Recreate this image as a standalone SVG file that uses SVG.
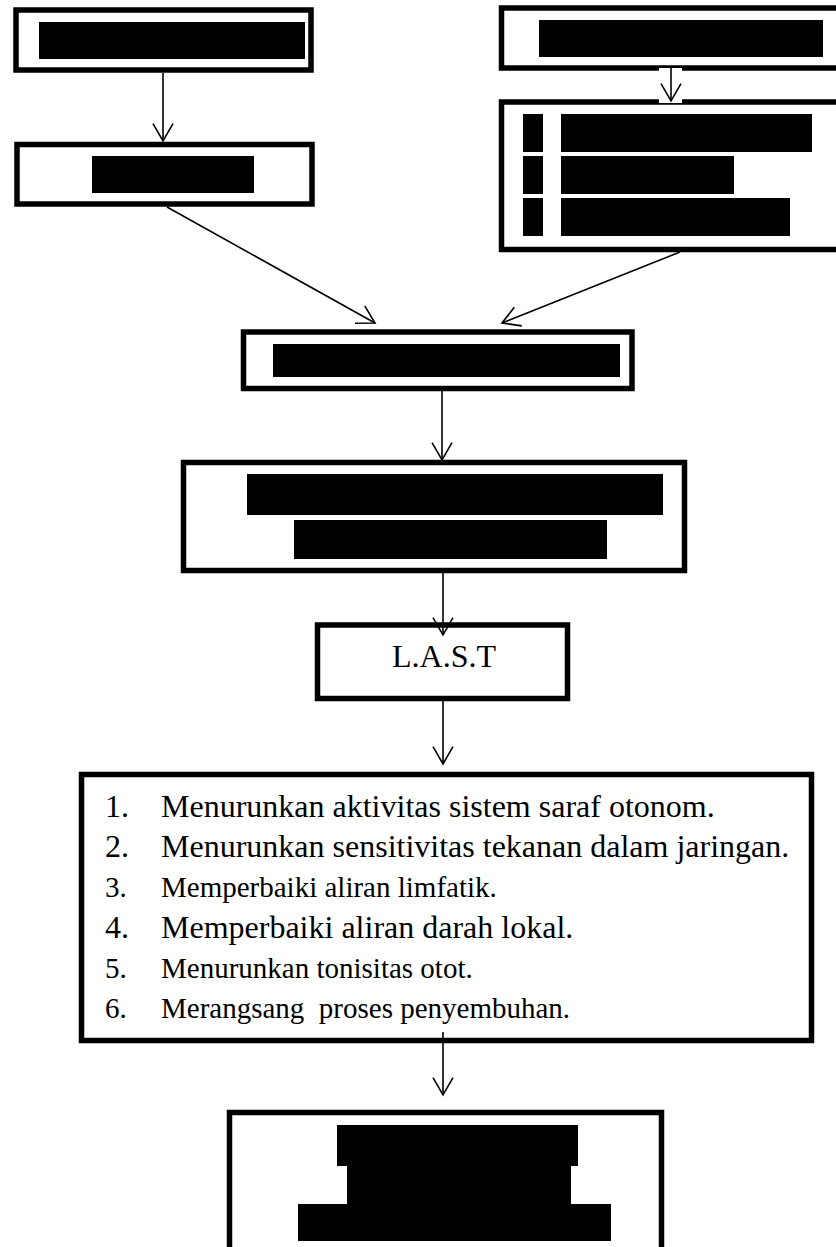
<svg xmlns="http://www.w3.org/2000/svg" width="836" height="1247" viewBox="0 0 836 1247">
<style>
.box{fill:#fff;stroke:#000;stroke-width:5.5}
.red{fill:#000}
.con{fill:none;stroke:#000;stroke-width:1.6}
.t32{font-family:"Liberation Serif","Times New Roman",serif;font-size:32px;fill:#000}
.t29{font-family:"Liberation Serif","Times New Roman",serif;font-size:29px;fill:#000}
</style>
<defs>
<marker id="arr" markerUnits="userSpaceOnUse" markerWidth="40" markerHeight="40" refX="20" refY="20" orient="auto" overflow="visible">
<path d="M2.7,10 L20,20 L2.7,30" fill="none" stroke="#000" stroke-width="1.6"/>
</marker>
</defs>
<rect width="836" height="1247" fill="#fff"/>

<g id="node-top-left">
<rect class="box" x="16" y="10" width="295" height="60"/>
<rect class="red" x="39" y="22" width="266" height="37"/>
</g>

<g id="node-left-2">
<rect class="box" x="17" y="144.5" width="295" height="59.5"/>
<rect class="red" x="92" y="156" width="162" height="37"/>
</g>

<g id="node-top-right">
<rect class="box" x="501.5" y="8" width="345" height="60"/>
<rect class="red" x="539" y="20" width="284" height="37"/>
</g>

<g id="node-right-list">
<rect class="box" x="501.5" y="102" width="345" height="147.5"/>
<rect class="red" x="523" y="114" width="20" height="38"/>
<rect class="red" x="561" y="114" width="251" height="38"/>
<rect class="red" x="523" y="156" width="20" height="38"/>
<rect class="red" x="561" y="156" width="173" height="38"/>
<rect class="red" x="523" y="198" width="20" height="38"/>
<rect class="red" x="561" y="198" width="229" height="38"/>
</g>

<g id="node-merge">
<rect class="box" x="243.5" y="332" width="388.5" height="56.5"/>
<rect class="red" x="273" y="344" width="347" height="33"/>
</g>

<g id="node-two-line">
<rect class="box" x="183.5" y="462.5" width="501" height="108"/>
<rect class="red" x="247" y="474" width="416" height="41"/>
<rect class="red" x="294" y="520" width="313" height="39"/>
</g>

<g id="node-last">
<rect class="box" x="317.5" y="625" width="250" height="73.5"/>
<text class="t32" x="444" y="667" text-anchor="middle">L.A.S.T</text>
</g>

<g id="node-effects">
<rect class="box" x="81.5" y="774.5" width="730" height="266"/>
<text class="t32" x="105" y="817">1.</text>
<text class="t32" x="161" y="817">Menurunkan aktivitas sistem saraf otonom.</text>
<text class="t32" x="105" y="857">2.</text>
<text class="t32" x="161" y="857">Menurunkan sensitivitas tekanan dalam jaringan.</text>
<text class="t29" x="105" y="897">3.</text>
<text class="t29" x="161" y="897">Memperbaiki aliran limfatik.</text>
<text class="t32" x="105" y="938">4.</text>
<text class="t32" x="161" y="938">Memperbaiki aliran darah lokal.</text>
<text class="t29" x="105" y="978">5.</text>
<text class="t29" x="161" y="978">Menurunkan tonisitas otot.</text>
<text class="t29" x="105" y="1018">6.</text>
<text class="t29" x="161" y="1018" xml:space="preserve">Merangsang  proses penyembuhan.</text>
</g>

<g id="node-bottom">
<rect class="box" x="229.5" y="1112.5" width="432" height="200"/>
<rect class="red" x="337" y="1125" width="241" height="41"/>
<rect class="red" x="347" y="1166" width="224" height="38"/>
<rect class="red" x="298" y="1204" width="313" height="37"/>
</g>

<g id="connectors">
<line class="con" x1="163" y1="73" x2="163" y2="141" marker-end="url(#arr)"/>
<rect x="659" y="68" width="23" height="35" fill="#fff"/>
<line class="con" x1="671" y1="68" x2="671" y2="101" marker-end="url(#arr)"/>
<line class="con" x1="167" y1="207" x2="375" y2="323" marker-end="url(#arr)"/>
<line class="con" x1="680" y1="252" x2="502" y2="323" marker-end="url(#arr)"/>
<line class="con" x1="442" y1="391" x2="442" y2="460" marker-end="url(#arr)"/>
<line class="con" x1="443" y1="573" x2="443" y2="635" marker-end="url(#arr)"/>
<line class="con" x1="443" y1="701" x2="443" y2="764" marker-end="url(#arr)"/>
<line class="con" x1="443" y1="1032" x2="443" y2="1095" marker-end="url(#arr)"/>
</g>
</svg>
